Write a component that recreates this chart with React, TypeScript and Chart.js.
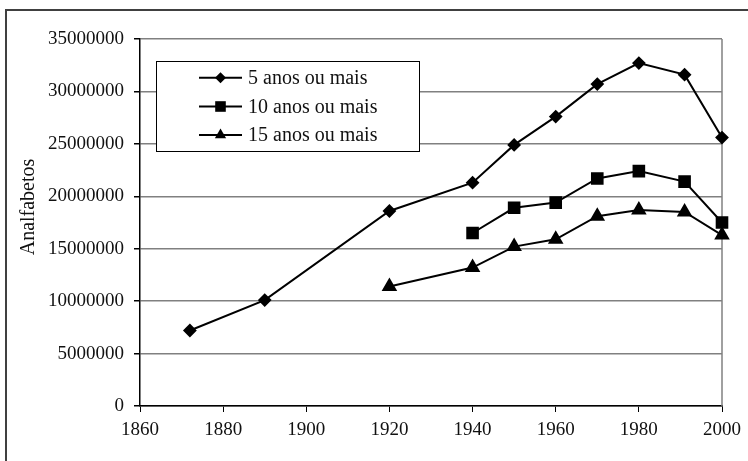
import React, { useEffect, useRef } from "react";
import { Chart, registerables } from "chart.js";

Chart.register(...registerables);

const years5 = [1872, 1890, 1920, 1940, 1950, 1960, 1970, 1980, 1991, 2000];
const anos5 = [7200000, 10100000, 18600000, 21300000, 24900000, 27600000, 30700000, 32700000, 31600000, 25600000];
const years10 = [1940, 1950, 1960, 1970, 1980, 1991, 2000];
const anos10 = [16500000, 18900000, 19400000, 21700000, 22400000, 21400000, 17500000];
const years15 = [1920, 1940, 1950, 1960, 1970, 1980, 1991, 2000];
const anos15 = [11400000, 13200000, 15200000, 15900000, 18100000, 18700000, 18500000, 16300000];
const seriesLabels = ["5 anos ou mais", "10 anos ou mais", "15 anos ou mais"];
const yTitle = "Analfabetos";

const FONT = "'Liberation Serif', 'DejaVu Serif', serif";

function drawMarker(ctx: CanvasRenderingContext2D, style: string, x: number, y: number) {
  ctx.beginPath();
  if (style === "rectRot") {
    const r = 5.5;
    ctx.moveTo(x, y - r);
    ctx.lineTo(x + r, y);
    ctx.lineTo(x, y + r);
    ctx.lineTo(x - r, y);
  } else if (style === "rect") {
    const s = 5.3;
    ctx.rect(x - s, y - s, 2 * s, 2 * s);
  } else {
    const r = 6.5;
    for (let i = 0; i < 3; i++) {
      const a = -Math.PI / 2 + (i * 2 * Math.PI) / 3;
      const px = x + r * Math.cos(a);
      const py = y + r * Math.sin(a);
      if (i === 0) ctx.moveTo(px, py);
      else ctx.lineTo(px, py);
    }
  }
  ctx.closePath();
  ctx.fill();
}

const framePlugin = {
  id: "frame",
  beforeDraw(chart: any) {
    const ctx = chart.ctx as CanvasRenderingContext2D;
    ctx.save();
    ctx.fillStyle = "#ffffff";
    ctx.fillRect(0, 0, chart.width, chart.height);
    ctx.strokeStyle = "#404040";
    ctx.lineWidth = 2;
    ctx.strokeRect(6, 10, chart.width + 20, chart.height + 20);
    ctx.restore();
  },
  beforeDatasetsDraw(chart: any) {
    const ctx = chart.ctx as CanvasRenderingContext2D;
    const a = chart.chartArea;
    ctx.save();
    ctx.strokeStyle = "#808080";
    ctx.lineWidth = 1.5;
    ctx.beginPath();
    ctx.moveTo(a.right, a.top);
    ctx.lineTo(a.right, a.bottom);
    ctx.stroke();

    // y title
    ctx.fillStyle = "#111";
    ctx.font = `20px ${FONT}`;
    ctx.textAlign = "center";
    ctx.textBaseline = "middle";
    ctx.translate(29, 207);
    ctx.rotate(-Math.PI / 2);
    ctx.fillText(yTitle, 0, 0);
    ctx.restore();
  },
  afterDraw(chart: any) {
    const ctx = chart.ctx as CanvasRenderingContext2D;
    ctx.save();
    const bx = 156.5, by = 61.5, bw = 263, bh = 90;
    ctx.fillStyle = "#fff";
    ctx.fillRect(bx, by, bw, bh);
    ctx.strokeStyle = "#000";
    ctx.lineWidth = 1;
    ctx.strokeRect(bx, by, bw, bh);
    const rows = [77.7, 106.5, 135];
    chart.data.datasets.forEach((ds: any, i: number) => {
      const y = rows[i];
      ctx.strokeStyle = "#000";
      ctx.lineWidth = 2;
      ctx.beginPath();
      ctx.moveTo(199, y);
      ctx.lineTo(242, y);
      ctx.stroke();
      ctx.fillStyle = "#000";
      drawMarker(ctx, ds.pointStyle, 220.5, y);
      ctx.fillStyle = "#111";
      ctx.font = `20px ${FONT}`;
      ctx.textAlign = "left";
      ctx.textBaseline = "middle";
      ctx.fillText(ds.label, 248, y + 1);
    });
    ctx.restore();
  },
};

export default function App() {
  const ref = useRef<HTMLCanvasElement | null>(null);

  useEffect(() => {
    if (!ref.current) return;
    const mk = (xs: number[], ys: number[]) => xs.map((x, i) => ({ x, y: ys[i] }));
    const chart = new Chart(ref.current, {
      type: "line",
      data: {
        datasets: [
          {
            label: seriesLabels[0],
            data: mk(years5, anos5),
            borderColor: "#000",
            backgroundColor: "#000",
            borderWidth: 2,
            pointStyle: "rectRot",
            pointRadius: 5.5,
            pointHoverRadius: 5.5,
            clip: false,
          },
          {
            label: seriesLabels[1],
            data: mk(years10, anos10),
            borderColor: "#000",
            backgroundColor: "#000",
            borderWidth: 2,
            pointStyle: "rect",
            pointRadius: 7.5,
            pointHoverRadius: 7.5,
            clip: false,
          },
          {
            label: seriesLabels[2],
            data: mk(years15, anos15),
            borderColor: "#000",
            backgroundColor: "#000",
            borderWidth: 2,
            pointStyle: "triangle",
            pointRadius: 7,
            pointHoverRadius: 7,
            clip: false,
          },
        ] as any,
      },
      options: {
        animation: false,
        responsive: false,
        devicePixelRatio: 1,
        layout: { padding: { left: 0, top: 39, right: 26, bottom: 0 } },
        plugins: {
          legend: { display: false },
          tooltip: { enabled: false },
          title: { display: false },
        },
        elements: { line: { tension: 0 } },
        scales: {
          x: {
            type: "linear",
            min: 1860,
            max: 2000,
            ticks: {
              stepSize: 20,
              color: "#111",
              font: { family: FONT, size: 19 },
              padding: 7,
              maxRotation: 0,
              callback: (v: any) => String(v),
            },
            grid: {
              drawOnChartArea: false,
              tickLength: 6,
              tickColor: "#000",
              color: "#000",
            },
            border: { color: "#000", width: 1.5 },
            afterFit: (s: any) => {
              s.height = 55;
            },
          },
          y: {
            min: 0,
            max: 35000000,
            ticks: {
              stepSize: 5000000,
              color: "#111",
              font: { family: FONT, size: 19 },
              padding: 10,
              callback: (v: any) => String(v),
            },
            grid: {
              color: "#808080",
              lineWidth: 1.5,
              tickLength: 6,
              tickColor: "#000",
            },
            border: { color: "#000", width: 1.5 },
            afterFit: (s: any) => {
              s.width = 140;
            },
          },
        },
      },
      plugins: [framePlugin],
    });
    return () => chart.destroy();
  }, []);

  return (
    <div style={{ position: "absolute", left: 0, top: 0, width: 748, height: 461 }}>
      <canvas ref={ref} width={748} height={461} style={{ display: "block" }} />
    </div>
  );
}
